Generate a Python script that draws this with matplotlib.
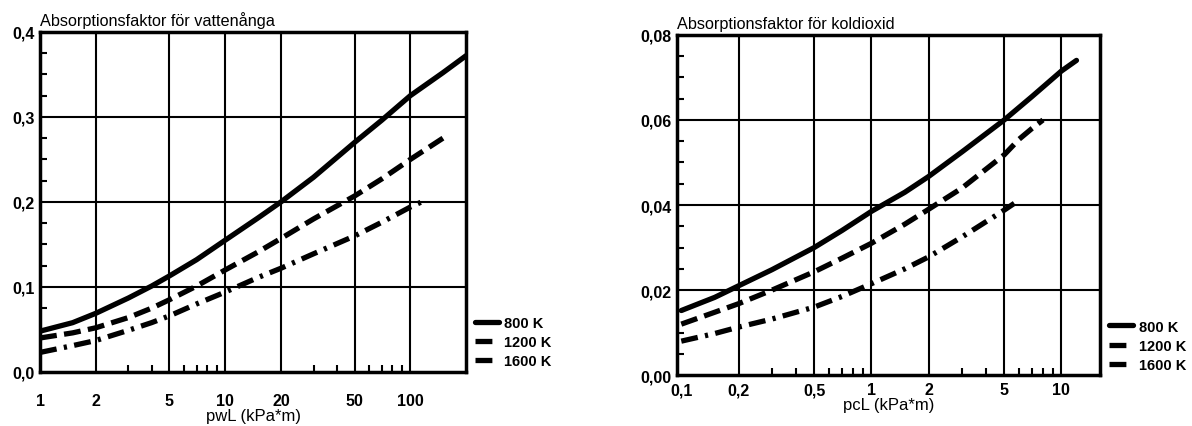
import matplotlib.pyplot as plt
from matplotlib.ticker import FixedLocator, NullFormatter

plt.rcParams['font.family'] = ['Liberation Sans', 'DejaVu Sans']

# ~~~ data ~~~
temps = ['800 K', '1200 K', '1600 K']

# water vapour, pwL [kPa*m]
h2o_x_800 = [1, 1.5, 2, 3, 4, 5, 7, 10, 15, 20, 30, 50, 70, 100, 150, 200]
h2o_y_800 = [0.048, 0.058, 0.069, 0.087, 0.101, 0.113, 0.132, 0.155, 0.181, 0.200,
             0.229, 0.270, 0.296, 0.325, 0.352, 0.372]
h2o_x_1200 = [1, 1.5, 2, 3, 4, 5, 7, 10, 15, 20, 30, 50, 70, 100, 150]
h2o_y_1200 = [0.040, 0.046, 0.052, 0.064, 0.075, 0.085, 0.101, 0.120, 0.141, 0.157,
              0.180, 0.207, 0.227, 0.250, 0.275]
h2o_x_1600 = [1, 1.5, 2, 3, 4, 5, 7, 10, 15, 20, 30, 50, 70, 100, 115]
h2o_y_1600 = [0.023, 0.031, 0.037, 0.049, 0.058, 0.066, 0.080, 0.094, 0.111, 0.122,
              0.139, 0.160, 0.176, 0.194, 0.200]

# carbon dioxide, pcL [kPa*m]
co2_x_800 = [0.1, 0.15, 0.2, 0.3, 0.5, 0.7, 1, 1.5, 2, 3, 5, 7, 10, 12]
co2_y_800 = [0.0152, 0.0183, 0.0210, 0.0248, 0.0300, 0.0340, 0.0385, 0.0430, 0.0467,
             0.0525, 0.0600, 0.0655, 0.0715, 0.0740]
co2_x_1200 = [0.1, 0.15, 0.2, 0.3, 0.5, 0.7, 1, 1.5, 2, 3, 5, 6, 7, 8]
co2_y_1200 = [0.0120, 0.0148, 0.0168, 0.0200, 0.0243, 0.0275, 0.0310, 0.0355, 0.0390,
              0.0440, 0.0518, 0.0555, 0.0580, 0.0600]
co2_x_1600 = [0.1, 0.15, 0.2, 0.3, 0.5, 0.7, 1, 1.5, 2, 3, 5, 5.65]
co2_y_1600 = [0.0080, 0.0098, 0.0113, 0.0132, 0.0160, 0.0185, 0.0215, 0.0250, 0.0278,
              0.0325, 0.0388, 0.0404]

h2o_xticks = [1, 2, 5, 10, 20, 50, 100]
h2o_xlabels = ['1', '2', '5', '10', '20', '50', '100']
h2o_yticks = [0.0, 0.1, 0.2, 0.3, 0.4]
h2o_ylabels = ['0,0', '0,1', '0,2', '0,3', '0,4']
h2o_xminor = [3, 4, 6, 7, 8, 9, 30, 40, 60, 70, 80, 90]
h2o_yminor = [0.025, 0.05, 0.075, 0.125, 0.15, 0.175, 0.225, 0.25, 0.275,
              0.325, 0.35, 0.375]

co2_xticks = [0.1, 0.2, 0.5, 1, 2, 5, 10]
co2_xlabels = ['0,1', '0,2', '0,5', '1', '2', '5', '10']
co2_yticks = [0.0, 0.02, 0.04, 0.06, 0.08]
co2_ylabels = ['0,00', '0,02', '0,04', '0,06', '0,08']
co2_xminor = [0.3, 0.4, 0.6, 0.7, 0.8, 0.9, 3, 4, 6, 7, 8, 9]
co2_yminor = [0.005, 0.01, 0.015, 0.025, 0.03, 0.035, 0.045, 0.05, 0.055,
              0.065, 0.07, 0.075]

styles = ['-', (0, (3.2, 1.4)), (0, (3.2, 1.4, 0.6, 1.4))]


def absorption_plot(ax, series, xlim, ylim, xticks, xlabels, yticks, ylabels,
                    yminor, xminor, title, xlabel, xpad, leg_anchor):
    '''
    One absorption factor chart: log x axis, grid at the labelled values
    '''
    for (x, y), ls, lab in zip(series, styles, temps):
        ax.plot(x, y, color='black', lw=3.8, linestyle=ls, label=lab,
                solid_capstyle='round', dash_capstyle='butt', solid_joinstyle='round')
    ax.set_xscale('log')
    ax.set_xlim(*xlim)
    ax.set_ylim(*ylim)
    ax.set_xticks(xticks)
    ax.set_xticklabels(xlabels, fontweight='bold')
    ax.xaxis.set_minor_locator(FixedLocator(xminor))
    ax.xaxis.set_minor_formatter(NullFormatter())
    ax.set_yticks(yticks)
    ax.set_yticklabels(ylabels, fontweight='bold')
    ax.yaxis.set_minor_locator(FixedLocator(yminor))
    ax.tick_params(which='major', length=0, labelsize=11.5)
    ax.tick_params(axis='x', which='major', pad=xpad)
    ax.tick_params(axis='y', which='major', pad=4)
    ax.tick_params(which='minor', direction='in', length=5, width=1.5)
    for gx in xticks[1:]:
        ax.axvline(gx, color='black', lw=1.5, zorder=1)
    for gy in yticks[1:-1]:
        ax.axhline(gy, color='black', lw=1.5, zorder=1)
    for s in ax.spines.values():
        s.set_linewidth(2.5)
    ax.text(0.0, 1.012, title, transform=ax.transAxes, fontsize=11.7,
            ha='left', va='bottom')
    ax.set_xlabel(xlabel, fontsize=12, labelpad=0)
    ax.legend(loc='lower left', bbox_to_anchor=leg_anchor, frameon=False,
              handlelength=1.7, handletextpad=0.35, labelspacing=0.35,
              borderpad=0, borderaxespad=0, prop={'size': 10.5, 'weight': 'bold'})


fig = plt.figure(figsize=(11.92, 4.27), dpi=100)
ax1 = fig.add_axes([0.0336, 0.1265, 0.3574, 0.7965])
ax2 = fig.add_axes([0.568, 0.119, 0.355, 0.797])

absorption_plot(ax1,
                [(h2o_x_800, h2o_y_800), (h2o_x_1200, h2o_y_1200), (h2o_x_1600, h2o_y_1600)],
                (1, 200), (0, 0.4), h2o_xticks, h2o_xlabels, h2o_yticks, h2o_ylabels,
                h2o_yminor, h2o_xminor, 'Absorptionsfaktor för vattenånga', 'pwL (kPa*m)',
                15, (1.02, 0.012))
absorption_plot(ax2,
                [(co2_x_800, co2_y_800), (co2_x_1200, co2_y_1200), (co2_x_1600, co2_y_1600)],
                (0.095, 16), (0, 0.08), co2_xticks, co2_xlabels, co2_yticks, co2_ylabels,
                co2_yminor, co2_xminor, 'Absorptionsfaktor för koldioxid', 'pcL (kPa*m)',
                5, (1.02, 0.01))

fig.savefig('out.png', dpi=100)
